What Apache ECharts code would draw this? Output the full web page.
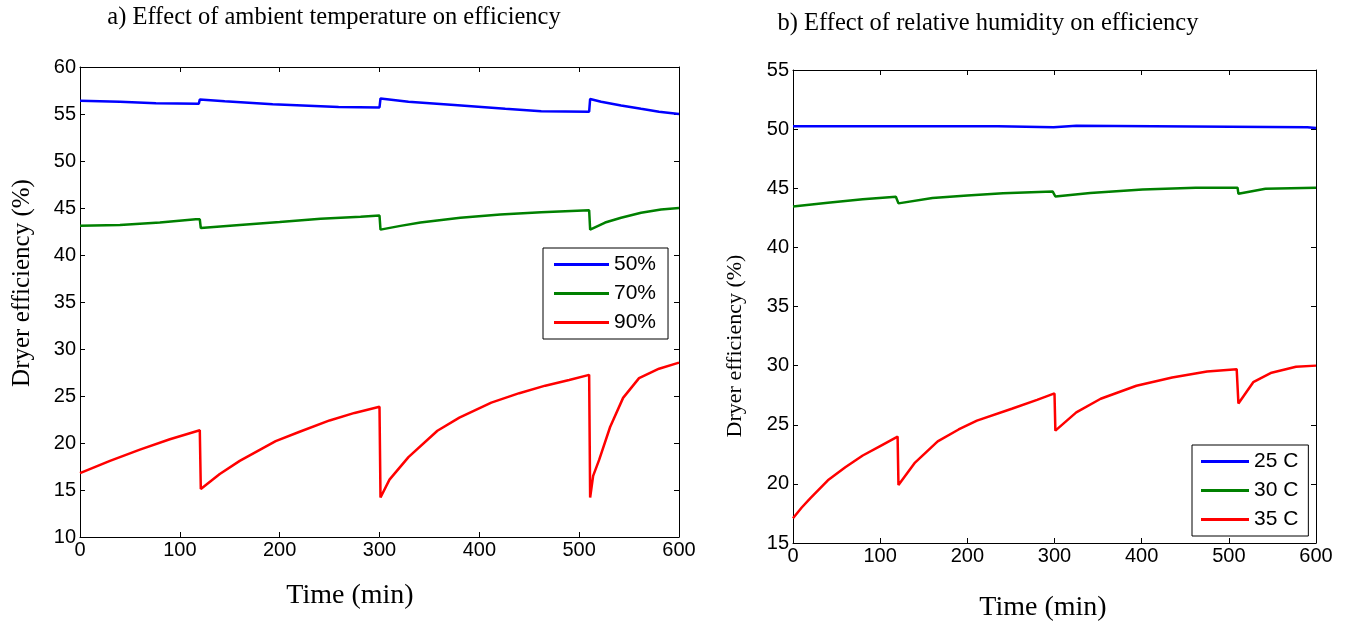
<!DOCTYPE html>
<html>
<head>
<meta charset="utf-8">
<script src="https://cdn.jsdelivr.net/npm/echarts@6/dist/echarts.min.js"></script>
<style>
html,body{margin:0;padding:0;background:#fff;}
#chart{width:1348px;height:626px;}
</style>
</head>
<body>
<div id="chart"></div>
<script>
// ---- Panel a) Effect of ambient temperature (legend = relative humidity) ----
var timeA50 = [0, 40, 76, 119, 120, 145, 193, 259, 300, 301, 329, 375, 426, 462, 510, 511, 522, 542, 562, 580, 600];
var effA50  = [56.4, 56.3, 56.15, 56.1, 56.55, 56.35, 56.05, 55.75, 55.7, 56.65, 56.3, 55.95, 55.55, 55.3, 55.25, 56.6, 56.3, 55.9, 55.55, 55.25, 55.0];
var timeA70 = [0, 40, 80, 116, 120, 121, 160, 200, 241, 281, 300, 301, 321, 341, 381, 421, 462, 510, 511, 526, 542, 562, 582, 600];
var effA70  = [43.1, 43.2, 43.45, 43.8, 43.8, 42.86, 43.2, 43.5, 43.86, 44.07, 44.2, 42.7, 43.1, 43.45, 43.97, 44.3, 44.55, 44.76, 42.7, 43.45, 43.97, 44.5, 44.83, 45.0];
var timeA90 = [0, 30, 60, 90, 120, 121, 140, 160, 196, 220, 250, 275, 300, 301, 310, 329, 358, 380, 412, 440, 466, 490, 510, 511, 514, 520, 531, 544, 560, 580, 600];
var effA90  = [16.8, 18.1, 19.3, 20.4, 21.35, 15.1, 16.7, 18.1, 20.2, 21.2, 22.4, 23.2, 23.85, 14.2, 16.1, 18.5, 21.3, 22.7, 24.3, 25.3, 26.1, 26.7, 27.25, 14.2, 16.5, 18.2, 21.7, 24.8, 26.9, 27.9, 28.55];

// ---- Panel b) Effect of relative humidity (legend = ambient temperature) ----
var timeB25 = [0, 235, 236, 299, 300, 325, 326, 590, 600];
var effB25  = [50.25, 50.25, 50.15, 50.15, 50.28, 50.28, 50.15, 50.15, 50.1];
var timeB30 = [0, 40, 80, 118, 120, 121, 160, 200, 241, 298, 300, 301, 341, 401, 462, 510, 511, 542, 600];
var effB30  = [43.45, 43.78, 44.06, 44.28, 44.28, 43.72, 44.17, 44.39, 44.58, 44.72, 44.72, 44.3, 44.6, 44.9, 45.05, 45.05, 44.53, 44.95, 45.05];
var timeB35 = [0, 10, 20, 40, 60, 80, 100, 120, 121, 140, 166, 190, 211, 251, 280, 300, 301, 325, 353, 394, 435, 475, 509, 510, 511, 528, 549, 577, 600];
var effB35  = [17.1, 18.0, 18.8, 20.3, 21.4, 22.4, 23.2, 24.0, 19.9, 21.8, 23.6, 24.6, 25.35, 26.35, 27.1, 27.65, 24.5, 26.05, 27.2, 28.3, 29.0, 29.5, 29.7, 29.72, 26.8, 28.6, 29.4, 29.9, 30.0];

var legendA = ['50%', '70%', '90%'];
var legendB = ['25 C', '30 C', '35 C'];
var titleA = 'a) Effect of ambient temperature on efficiency';
var titleB = 'b) Effect of relative humidity on efficiency';
var xTitle = 'Time (min)';
var yTitle = 'Dryer efficiency (%)';

function pairs(t, v) { return t.map(function (x, i) { return [x, v[i]]; }); }

var SANS = 'Liberation Sans, Arial, sans-serif';
var SERIF = 'Liberation Serif, Times New Roman, serif';

function xAx(grid, pos, show) {
  return {
    type: 'value', gridIndex: grid, position: pos, min: 0, max: 600, interval: 100,
    axisLine: { show: true, onZero: false, lineStyle: { color: '#000', width: 1 } },
    axisTick: { show: true, inside: true, length: 5, lineStyle: { color: '#000' } },
    axisLabel: { show: show, color: '#000', fontSize: 20, fontFamily: SANS, margin: 3 },
    splitLine: { show: false }
  };
}
function yAx(grid, pos, show, mn, mx) {
  return {
    type: 'value', gridIndex: grid, position: pos, min: mn, max: mx, interval: 5,
    axisLine: { show: true, onZero: false, lineStyle: { color: '#000', width: 1 } },
    axisTick: { show: true, inside: true, length: 5, lineStyle: { color: '#000' } },
    axisLabel: { show: show, color: '#000', fontSize: 20, fontFamily: SANS, margin: 4 },
    splitLine: { show: false }
  };
}
function ser(name, data, color, xi, yi) {
  return {
    name: name, type: 'line', data: data, xAxisIndex: xi, yAxisIndex: yi,
    symbol: 'none', smooth: false, animation: false,
    lineStyle: { color: color, width: 2.5 }, itemStyle: { color: color }
  };
}
function txt(x, y, text, size, rot) {
  return {
    type: 'text', x: x, y: y, rotation: rot || 0,
    style: { text: text, fontSize: size, fontFamily: SERIF, fill: '#000',
             textAlign: 'center', textVerticalAlign: 'middle' }
  };
}
function leg(data, left, top, w, pad) {
  return {
    data: data, orient: 'vertical', left: left, top: top,
    backgroundColor: '#fff', borderColor: '#000', borderWidth: 1, borderRadius: 0,
    padding: pad, icon: 'rect', itemWidth: w, itemHeight: 3, itemGap: 8,
    textStyle: { fontSize: 21, lineHeight: 20, fontFamily: SANS, color: '#000' },
    selectedMode: false
  };
}

var chart = echarts.init(document.getElementById('chart'));
chart.setOption({
  animation: false,
  backgroundColor: '#fff',
  grid: [
    { left: 80, top: 67, width: 599, height: 470 },
    { left: 793, top: 70, width: 523, height: 473 }
  ],
  xAxis: [xAx(0, 'bottom', true), xAx(0, 'top', false), xAx(1, 'bottom', true), xAx(1, 'top', false)],
  yAxis: [yAx(0, 'left', true, 10, 60), yAx(0, 'right', false, 10, 60), yAx(1, 'left', true, 15, 55), yAx(1, 'right', false, 15, 55)],
  legend: [
    leg(legendA, 543, 248, 55, [6, 12, 6, 11]),
    leg(legendB, 1192, 445, 48, [6, 10, 6, 9])
  ],
  series: [
    ser(legendA[0], pairs(timeA50, effA50), '#0000ff', 0, 0),
    ser(legendA[1], pairs(timeA70, effA70), '#008000', 0, 0),
    ser(legendA[2], pairs(timeA90, effA90), '#ff0000', 0, 0),
    ser(legendB[0], pairs(timeB25, effB25), '#0000ff', 2, 2),
    ser(legendB[1], pairs(timeB30, effB30), '#008000', 2, 2),
    ser(legendB[2], pairs(timeB35, effB35), '#ff0000', 2, 2)
  ],
  graphic: [
    txt(334, 18, titleA, 24.5),
    txt(988, 24, titleB, 24.5),
    txt(350, 596, xTitle, 28),
    txt(1043, 608, xTitle, 28),
    txt(22, 283, yTitle, 25, Math.PI / 2),
    txt(735, 346, yTitle, 22, Math.PI / 2)
  ]
});
</script>
</body>
</html>
